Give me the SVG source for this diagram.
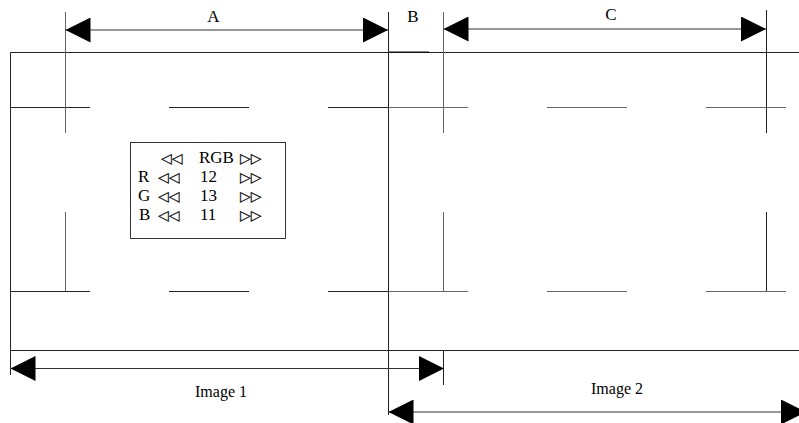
<svg xmlns="http://www.w3.org/2000/svg" width="799" height="423" viewBox="0 0 799 423">
<defs>
<marker id="ah" markerUnits="userSpaceOnUse" markerWidth="25" markerHeight="25" refX="25" refY="12.5" orient="auto-start-reverse" viewBox="0 0 25 25">
<path d="M0,0 L25,12.5 L0,25 z" fill="#000"/>
</marker>
</defs>
<style>
.ln{stroke:#222;stroke-width:1;fill:none}
.lg{stroke:#666;stroke-width:1;fill:none}
.dim{stroke:#333;stroke-width:1.2;fill:none;marker-start:url(#ah);marker-end:url(#ah)}
.t{font-family:"Liberation Serif","DejaVu Serif",serif;fill:#000}
.lab{font-size:17px;text-anchor:middle}
.cap{font-size:16px;text-anchor:middle}
.in{font-size:17px}
.tri{font-family:"DejaVu Sans",sans-serif;font-size:14px;fill:#000;stroke:#000;stroke-width:0.2}
</style>
<rect width="799" height="423" fill="#fff"/>
<g id="image1">
<path class="ln" d="M10.5,52.5 H388 M10.5,52.5 V375 M10,350.5 H388"/>
<path class="ln" d="M10,107.5 H90 M169,107.5 H249 M328,107.5 H388"/>
<path class="ln" d="M10,291.5 H90 M169,291.5 H249 M328,291.5 H388"/>
<path class="lg" d="M65.5,12 V133 M65.5,212 V291"/>
</g>
<g id="image2">
<path class="ln" d="M388,52.5 H799 M388,350.5 H799"/>
<path stroke="#111" stroke-width="1.5" d="M388,52.3 H429"/>
<path class="lg" d="M388,107.5 H468 M547,107.5 H627 M706,107.5 H786"/>
<path class="lg" d="M388,291.5 H468 M547,291.5 H627 M706,291.5 H786"/>
<path class="lg" d="M443.5,12 V133 M443.5,212 V291"/>
<path class="ln" d="M443.5,350 V385"/>
<path class="ln" d="M766.5,10 V133 M766.5,212 V291"/>
</g>
<g id="divider">
<path class="ln" d="M388.5,12 V415"/>
</g>
<g id="panel">
<rect x="130.5" y="142.5" width="155" height="96" fill="#fff" stroke="#333" stroke-width="1"/>
<text class="tri" x="161" y="163">◁◁</text>
<text class="t in" x="199" y="163">RGB</text>
<text class="tri" x="240" y="163">▷▷</text>
<text class="t in" x="138" y="182">R</text>
<text class="tri" x="158" y="182">◁◁</text>
<text class="t in" x="200" y="182">12</text>
<text class="tri" x="240" y="182">▷▷</text>
<text class="t in" x="138" y="201">G</text>
<text class="tri" x="158" y="201">◁◁</text>
<text class="t in" x="200" y="201">13</text>
<text class="tri" x="240" y="201">▷▷</text>
<text class="t in" x="139" y="220">B</text>
<text class="tri" x="158" y="220">◁◁</text>
<text class="t in" x="200" y="220">11</text>
<text class="tri" x="240" y="220">▷▷</text>
</g>
<g id="connectors">
<line class="dim" x1="65.5" y1="30" x2="388" y2="30"/>
<line class="dim" x1="443.5" y1="29" x2="766" y2="29"/>
<line class="dim" x1="10.5" y1="368.5" x2="444" y2="368.5"/>
<line class="dim" x1="388.5" y1="412" x2="806" y2="412"/>
</g>
<g id="labels">
<text class="t lab" x="213.5" y="22">A</text>
<text class="t lab" x="413" y="22">B</text>
<text class="t lab" x="611" y="20">C</text>
<text class="t cap" x="221" y="397">Image 1</text>
<text class="t cap" x="617" y="394">Image 2</text>
</g>
</svg>
